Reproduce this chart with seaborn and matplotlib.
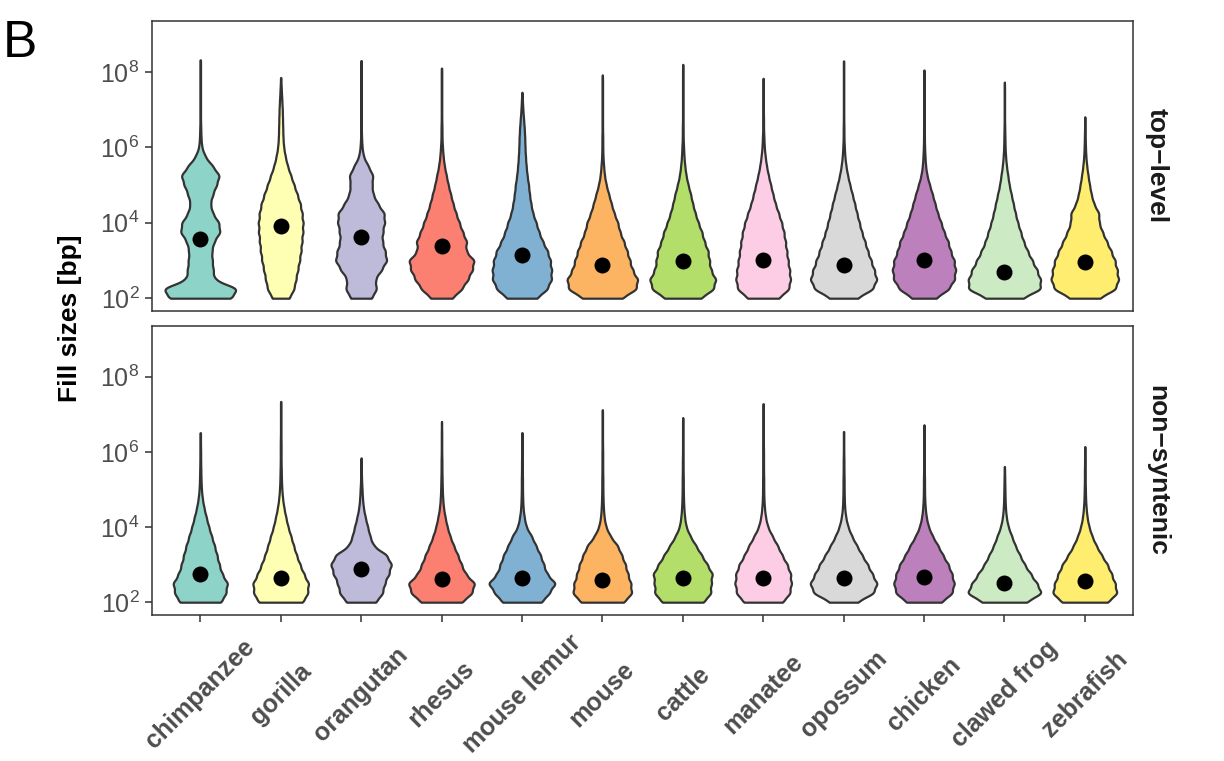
import numpy as np
import pandas as pd
import matplotlib
matplotlib.use("Agg")
import matplotlib.pyplot as plt
from matplotlib.ticker import NullLocator
import seaborn as sns

species = ["chimpanzee", "gorilla", "orangutan", "rhesus", "mouse lemur", "mouse",
           "cattle", "manatee", "opossum", "chicken", "clawed frog", "zebrafish"]
palette = ["#8DD3C7", "#FFFFB3", "#BEBADA", "#FB8072", "#80B1D3", "#FDB462",
           "#B3DE69", "#FCCDE5", "#D9D9D9", "#BC80BD", "#CCEBC5", "#FFED6F"]

# log10(fill size in bp) at which the relative violin widths below are tabulated
levels = [2.0, 2.25, 2.5, 2.75, 3.0, 3.25, 3.5, 3.75, 4.0, 4.25, 4.5, 4.75, 5.0,
          5.25, 5.5, 5.75, 6.0, 6.25, 6.5, 6.75, 7.0, 7.25, 7.5, 7.75, 8.0, 8.25]

# ---- top-level fills: relative density per level ----
top_chimpanzee = [130, 150, 55, 52, 48, 46, 55, 80, 75, 50, 40, 50, 65, 78, 50, 20, 6, 3, 2, 1, 1, 1, 1, 1, 1, 1]
top_gorilla = [38, 58, 66, 74, 82, 88, 92, 96, 97, 93, 85, 72, 58, 44, 30, 20, 13, 10, 9, 8, 7, 5, 3, 1]
top_orangutan = [45, 65, 58, 85, 108, 100, 88, 90, 98, 97, 70, 50, 45, 50, 30, 10, 4, 2, 1, 1, 1, 1, 1, 1, 1, 1]
top_rhesus = [45, 85, 110, 128, 137, 100, 105, 88, 74, 60, 48, 38, 28, 20, 12, 7, 4, 2, 2, 1, 1, 1, 1, 1, 1]
top_mouse_lemur = [65, 108, 125, 125, 120, 108, 88, 72, 60, 46, 38, 32, 28, 22, 18, 15, 13, 12, 10, 7, 4, 2]
top_mouse = [95, 160, 165, 140, 128, 115, 100, 82, 72, 55, 42, 30, 18, 10, 6, 3, 2, 2, 1, 1, 1, 1, 1, 1]
top_cattle = [90, 150, 160, 135, 128, 122, 104, 92, 75, 60, 48, 38, 26, 16, 10, 6, 4, 2, 2, 1, 1, 1, 1, 1, 1]
top_manatee = [85, 138, 145, 140, 132, 125, 118, 110, 98, 82, 65, 52, 40, 28, 18, 11, 6, 4, 2, 2, 1, 1, 1, 1]
top_opossum = [75, 160, 180, 165, 148, 130, 115, 98, 85, 72, 60, 47, 34, 22, 13, 7, 4, 2, 2, 1, 1, 1, 1, 1, 1, 1]
top_chicken = [60, 125, 152, 157, 150, 132, 120, 100, 85, 68, 55, 42, 28, 15, 8, 5, 3, 2, 2, 1, 1, 1, 1, 1, 1]
top_clawed_frog = [110, 215, 210, 190, 162, 135, 112, 95, 78, 64, 52, 40, 28, 20, 12, 7, 4, 3, 2, 1, 1, 1, 1]
top_zebrafish = [70, 145, 157, 150, 140, 122, 102, 82, 66, 66, 42, 30, 22, 15, 9, 5, 3, 2, 1]
top_max = [8.32, 7.85, 8.30, 8.10, 7.46, 7.92, 8.20, 7.83, 8.29, 8.05, 7.73, 6.81]
top_mean = [3.57, 3.91, 3.61, 3.38, 3.15, 2.88, 2.99, 3.01, 2.88, 3.00, 2.70, 2.96]

# ---- non-syntenic fills: relative density per level ----
ns_chimpanzee = [115, 135, 145, 115, 100, 88, 75, 60, 45, 32, 20, 11, 6, 4, 3, 2, 2, 1, 1]
ns_gorilla = [120, 140, 145, 120, 100, 82, 67, 53, 38, 27, 17, 10, 6, 4, 3, 2, 2, 2, 1, 1, 1, 1]
ns_orangutan = [65, 92, 100, 118, 130, 110, 52, 38, 28, 18, 10, 6, 4, 2, 1]
ns_rhesus = [105, 150, 165, 118, 98, 80, 60, 42, 28, 18, 10, 6, 4, 3, 2, 2, 1, 1, 1]
ns_mouse_lemur = [105, 140, 175, 128, 112, 95, 72, 50, 22, 12, 6, 4, 3, 3, 2, 2, 1, 1, 1]
ns_mouse = [125, 165, 158, 142, 128, 108, 85, 45, 20, 10, 6, 4, 3, 3, 2, 2, 2, 1, 1, 1, 1]
ns_cattle = [115, 150, 150, 158, 130, 100, 70, 40, 18, 10, 6, 4, 3, 3, 2, 2, 1, 1, 1, 1]
ns_manatee = [110, 145, 152, 148, 130, 102, 78, 50, 25, 13, 7, 4, 3, 3, 2, 2, 2, 1, 1, 1, 1, 1]
ns_opossum = [75, 165, 182, 155, 130, 100, 72, 45, 24, 12, 6, 4, 3, 3, 2, 2, 1, 1, 1]
ns_chicken = [100, 158, 168, 155, 135, 105, 78, 48, 25, 13, 7, 4, 3, 3, 2, 2, 1, 1, 1]
ns_clawed_frog = [130, 215, 185, 150, 115, 88, 62, 42, 22, 11, 6, 4, 3, 2, 1]
ns_zebrafish = [125, 170, 158, 140, 118, 88, 60, 38, 22, 12, 7, 4, 3, 2, 2, 1, 1]
ns_max = [6.51, 7.34, 5.84, 6.81, 6.51, 7.12, 6.91, 7.28, 6.54, 6.72, 5.61, 6.14]
ns_mean = [2.74, 2.65, 2.88, 2.63, 2.65, 2.59, 2.64, 2.64, 2.65, 2.68, 2.50, 2.57]

top_profiles = [top_chimpanzee, top_gorilla, top_orangutan, top_rhesus, top_mouse_lemur,
                top_mouse, top_cattle, top_manatee, top_opossum, top_chicken,
                top_clawed_frog, top_zebrafish]
ns_profiles = [ns_chimpanzee, ns_gorilla, ns_orangutan, ns_rhesus, ns_mouse_lemur,
               ns_mouse, ns_cattle, ns_manatee, ns_opossum, ns_chicken,
               ns_clawed_frog, ns_zebrafish]

BANDWIDTH = 0.125  # KDE bandwidth, in decades
COPIES = 10        # observations per unit of tabulated density


def fill_table(profiles, maxima):
    """Long table of fill sizes (bp) built from the tabulated profiles."""
    names, sizes = [], []
    for name, prof, top in zip(species, profiles, maxima):
        lv = np.asarray(levels[:len(prof)])
        vals = np.repeat(lv, np.rint(np.asarray(prof) * COPIES).astype(int))
        vals = np.append(vals, top)
        names += [name] * len(vals)
        sizes.append(10.0 ** vals)
    return pd.DataFrame({"species": names, "bp": np.concatenate(sizes)})


def fixed_bandwidth(kde):
    return BANDWIDTH / np.std(kde.dataset, ddof=1)


sns.set_theme(style="white")
plt.rcParams["font.family"] = ["Liberation Sans", "DejaVu Sans"]
plt.rcParams["mathtext.default"] = "regular"

fig = plt.figure(figsize=(12.24, 7.61), dpi=100)
ax_top = fig.add_axes([0.1242, 0.5913, 0.8015, 0.3811])
ax_bot = fig.add_axes([0.1242, 0.1919, 0.8015, 0.3798])

ytick_exponents = [2, 4, 6, 8]
ytick_labels = [f"$10^{{{e}}}$" for e in ytick_exponents]

panels = [
    (ax_top, top_profiles, top_max, top_mean, "top\u2212level"),
    (ax_bot, ns_profiles, ns_max, ns_mean, "non\u2212syntenic"),
]

for ax, profiles, maxima, means, strip in panels:
    df = fill_table(profiles, maxima)
    sns.violinplot(data=df, x="species", y="bp", hue="species", order=species,
                   hue_order=species, palette=palette, saturation=1, legend=False,
                   inner=None, cut=0, width=0.9, density_norm="area",
                   common_norm=True, bw_method=fixed_bandwidth, gridsize=500,
                   linewidth=1.6, linecolor="#333333", log_scale=True, ax=ax)
    sns.stripplot(x=species, y=10.0 ** np.asarray(means), order=species,
                  color="black", size=11.5, jitter=False, linewidth=0, ax=ax,
                  zorder=4)
    ax.set_xlim(-0.6, len(species) - 0.4)
    ax.set_ylim(10 ** 1.66, 10 ** 9.35)
    ax.set_yticks([10.0 ** e for e in ytick_exponents])
    ax.set_yticklabels(ytick_labels)
    ax.yaxis.set_minor_locator(NullLocator())
    ax.set_xlabel("")
    ax.set_ylabel("")
    ax.tick_params(axis="y", left=True, length=5, width=1.1, color="#333333",
                   labelsize=18, labelcolor="#4D4D4D", pad=4)
    for sp in ax.spines.values():
        sp.set_visible(True)
        sp.set_color("#333333")
        sp.set_linewidth(1.1)
    ax.text(1 + 24 / 981, 0.5, strip, transform=ax.transAxes, rotation=-90,
            ha="center", va="center", fontsize=19, fontweight="bold",
            color="#1A1A1A")

ax_top.tick_params(axis="x", bottom=False, labelbottom=False)
ax_bot.set_xticks(range(len(species)))
ax_bot.set_xticklabels(species, rotation=45, ha="center", va="center",
                       rotation_mode="default", fontsize=18,
                       fontweight="bold", color="#4D4D4D")
ax_bot.tick_params(axis="x", bottom=True, length=5, width=1.1, color="#333333",
                   pad=52)

fig.text(70 / 1224, 1 - 318 / 761, "Fill sizes [bp]", rotation=90, ha="center",
         va="center", fontsize=19, fontweight="bold", color="black")
fig.text(3 / 1224, 1 - 57 / 761, "B", fontsize=37, ha="left", va="baseline",
         color="black")

fig.savefig("out.png", dpi=100)
